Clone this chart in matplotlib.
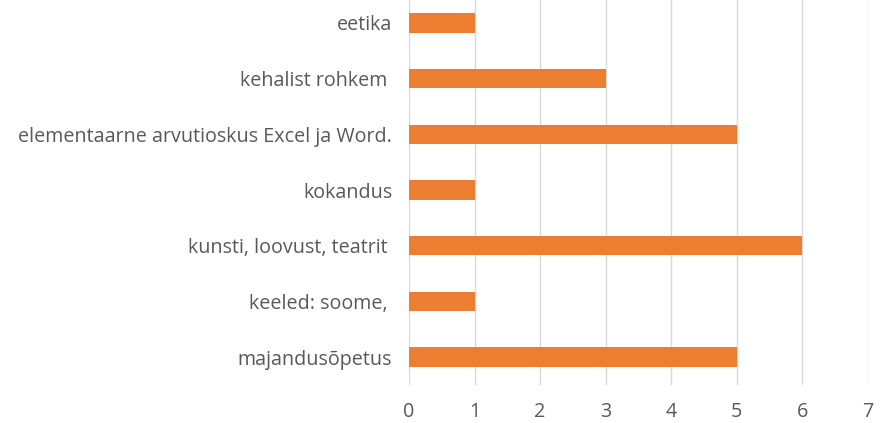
import matplotlib.pyplot as plt
from matplotlib.ticker import MultipleLocator

# categories listed top to bottom, as in the picture
categories = [
    "eetika",
    "kehalist rohkem ",
    "elementaarne arvutioskus Excel ja Word.",
    "kokandus",
    "kunsti, loovust, teatrit ",
    "keeled: soome, ",
    "majandusõpetus",
]
counts = [1, 3, 5, 1, 6, 1, 5]

bar_color = "#ED7D31"
grid_color = "#D9D9D9"
text_color = "#595959"

plt.rcParams['font.family'] = ['Open Sans', 'DejaVu Sans']

fig = plt.figure(figsize=(8.89, 4.23), dpi=100)
# plot area: x 409..868 px, y -5..385 px (top is cut off in the reference)
ax = fig.add_axes([409 / 889, 1 - 385 / 423, (868 - 409) / 889, 390 / 423])

pos = list(range(len(categories)))
ax.barh(pos, counts, height=0.35, color=bar_color, zorder=2)

ax.set_ylim(len(categories) - 0.5, -0.5)
ax.set_yticks(pos)
ax.set_yticklabels(categories)
ax.set_xlim(0, 7)
ax.xaxis.set_major_locator(MultipleLocator(1))

ax.grid(axis='x', color=grid_color, linewidth=1, zorder=0)
for s in ax.spines.values():
    s.set_visible(False)
ax.tick_params(axis='both', length=0, colors=text_color, labelsize=14.2)
ax.tick_params(axis='y', pad=12)
ax.tick_params(axis='x', pad=12)

fig.savefig("out.png", dpi=100)
